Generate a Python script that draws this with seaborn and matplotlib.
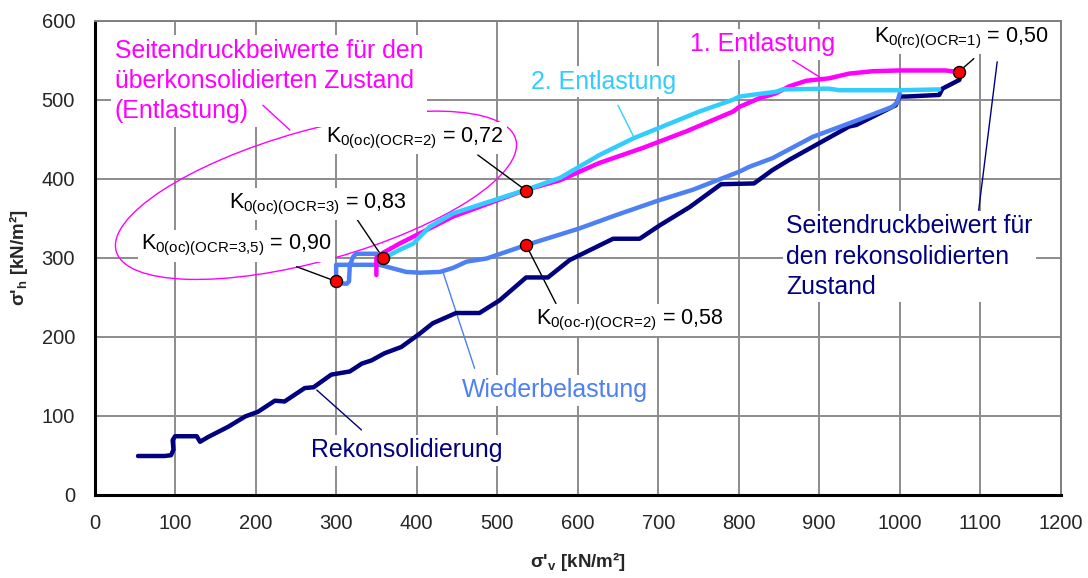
import numpy as np
import pandas as pd
import matplotlib
matplotlib.use("Agg")
import matplotlib.pyplot as plt
from matplotlib.patches import Ellipse
import seaborn as sns

# ---------------- data ----------------
rek_x = [54, 87, 95, 98, 97, 100, 127, 131, 141, 166, 187, 203, 224, 236, 261, 272, 294, 317, 332, 344,
         360, 381, 404, 420, 449, 478, 503, 536, 563, 590, 644, 677, 702, 739, 778, 819, 842, 863, 937,
         946, 995, 1000, 1008, 1049, 1053, 1074, 1076]
rek_y = [49, 49, 50, 57, 69, 74, 74, 67, 73, 86, 99, 105, 119, 118, 135, 136, 152, 156, 166, 170,
         179, 187, 204, 217, 230, 230, 246, 275, 275, 297, 324, 324, 341, 364, 393, 394, 411, 424, 466,
         468, 493, 504, 504, 506, 514, 525, 533]

wb_x = [350, 325, 321, 317, 316, 313, 300, 300, 354, 387, 404, 429, 445, 462, 487, 536, 602, 648, 702,
        743, 801, 813, 842, 892, 937, 991, 997, 1000]
wb_y = [305, 305, 301, 290, 270, 267, 268, 291, 291, 282, 281, 282, 287, 295, 299, 316, 337, 354, 373,
        386, 409, 415, 426, 453, 470, 491, 497, 508]

e1_x = [1073, 1057, 999, 966, 937, 912, 884, 863, 846, 826, 801, 793, 735, 681, 627, 578, 536, 445,
        420, 379, 358, 350, 350]
e1_y = [535, 537, 537, 536, 533, 527, 524, 517, 508, 502, 491, 485, 460, 439, 420, 398, 386, 352,
        339, 318, 306, 300, 278]

e2_x = [1049, 999, 925, 912, 855, 846, 801, 793, 751, 710, 669, 627, 578, 536, 445, 416, 396, 379, 358]
e2_y = [513, 512, 512, 514, 513, 510, 504, 500, 485, 468, 451, 430, 401, 386, 356, 339, 318, 310, 299]

dot_x = [300, 358, 536, 536, 1073]
dot_y = [270, 300, 385, 316, 535]

x_ticks = list(range(0, 1201, 100))
y_ticks = list(range(0, 601, 100))

NAVY = "#000080"
BLUE = "#4D80F5"
MAGENTA = "#FF00FF"
CYAN = "#33CCFF"

# ---------------- style ----------------
sns.set_style("white")
plt.rcParams["font.family"] = ["Liberation Sans", "DejaVu Sans"]
plt.rcParams["mathtext.fontset"] = "custom"
plt.rcParams["mathtext.rm"] = "Liberation Sans"
plt.rcParams["mathtext.it"] = "Liberation Sans:italic"
plt.rcParams["mathtext.bf"] = "Liberation Sans:bold"

fig = plt.figure(figsize=(10.88, 5.78), dpi=100)
ax = fig.add_axes([0.0869, 0.1441, 0.975 - 0.0869, 0.9642 - 0.1441])

curves = [
    (rek_x, rek_y, NAVY),
    (wb_x, wb_y, BLUE),
    (e1_x, e1_y, MAGENTA),
    (e2_x, e2_y, CYAN),
]
for xs, ys, c in curves:
    df = pd.DataFrame({"x": xs, "y": ys})
    sns.lineplot(data=df, x="x", y="y", sort=False, estimator=None, color=c, lw=3.2,
                 ax=ax, zorder=3, solid_joinstyle="round", solid_capstyle="round")

sns.scatterplot(x=dot_x, y=dot_y, color="#FF0000", edgecolor="black", linewidth=1.0,
                s=75, ax=ax, zorder=6)

ax.set_xlim(0, 1200)
ax.set_ylim(0, 600)
ax.set_xticks(x_ticks)
ax.set_yticks(y_ticks)
ax.tick_params(axis="both", labelsize=14.5, length=6, width=1.5, color="black", direction="out", pad=8)
ax.set_axisbelow(True)
ax.grid(True, color="#8C8C8C", lw=1.4)
for s in ["left", "bottom"]:
    ax.spines[s].set_color("black")
    ax.spines[s].set_linewidth(2.2)
for s in ["top", "right"]:
    ax.spines[s].set_color("#7F7F7F")
    ax.spines[s].set_linewidth(1.4)

ax.set_xlabel(r"σ'$_\mathbf{v}$ [kN/m²]", fontsize=13.5, fontweight="bold", labelpad=12)
ax.set_ylabel(r"σ'$_\mathbf{h}$ [kN/m²]", fontsize=13.5, fontweight="bold", labelpad=8)

box = dict(facecolor="white", edgecolor="none", pad=2.5)
tz = 2.5

# ellipse + big magenta text
ell = Ellipse((275, 379), width=516, height=165, angle=16, fill=False, edgecolor=MAGENTA,
              lw=1.0, zorder=2)
ax.add_patch(ell)
ax.plot([209, 242.6], [493, 461.6], color=MAGENTA, lw=1.0, zorder=2.8)
ax.text(25, 577, "Seitendruckbeiwerte für den\nüberkonsolidierten Zustand\n(Entlastung)",
        color=MAGENTA, fontsize=17.9, ha="left", va="top", linespacing=1.33, zorder=tz, bbox=box)

# K labels with leaders
klabels = [
    (176, 315, r"$\mathrm{K}_{\text{0(oc)(OCR=3,5)}}$ = 0,90", (300, 270), (251, 288.6)),
    (277, 368, r"$\mathrm{K}_{\text{0(oc)(OCR=3)}}$ = 0,83", (358, 300), (325, 350)),
    (397.5, 451, r"$\mathrm{K}_{\text{0(oc)(OCR=2)}}$ = 0,72", (536, 385), (476, 430)),
    (665, 221, r"$\mathrm{K}_{\text{0(oc-r)(OCR=2)}}$ = 0,58", (536, 316), (573, 242)),
    (1076, 578, r"$\mathrm{K}_{\text{0(rc)(OCR=1)}}$ = 0,50", (1073, 535), (1092, 552)),
]
for tx, ty, s, p0, p1 in klabels:
    ax.plot([p0[0], p1[0]], [p0[1], p1[1]], color="black", lw=1.0, zorder=2)
    ax.text(tx, ty, s, fontsize=15.5, ha="center", va="center", color="black", zorder=tz, bbox=box)

# series labels with leaders
ax.plot([867, 900], [550, 529], color=MAGENTA, lw=1.0, zorder=2)
ax.text(830, 570, "1. Entlastung", color=MAGENTA, fontsize=17.9, ha="center", va="center",
        zorder=tz, bbox=box)
ax.plot([650, 670.6], [493, 451], color=CYAN, lw=1.0, zorder=2)
ax.text(632, 523, "2. Entlastung", color=CYAN, fontsize=17.9, ha="center", va="center",
        zorder=tz, bbox=box)
ax.plot([433, 472], [281, 160], color=BLUE, lw=1.0, zorder=2)
ax.text(572, 132, "Wiederbelastung", color=BLUE, fontsize=17.9, ha="center", va="center",
        zorder=tz, bbox=box)
ax.plot([276, 331.5], [132.5, 82], color=NAVY, lw=1.0, zorder=2)
ax.text(388, 56, "Rekonsolidierung", color=NAVY, fontsize=17.9, ha="center", va="center",
        zorder=tz, bbox=box)
ax.plot([1121, 1098], [548, 360], color=NAVY, lw=1.0, zorder=2)
ax.text(859, 355, "Seitendruckbeiwert für\nden rekonsolidierten\nZustand", color=NAVY,
        fontsize=17.9, ha="left", va="top", linespacing=1.33, zorder=tz, bbox=box)

fig.savefig("out.png", dpi=100)
